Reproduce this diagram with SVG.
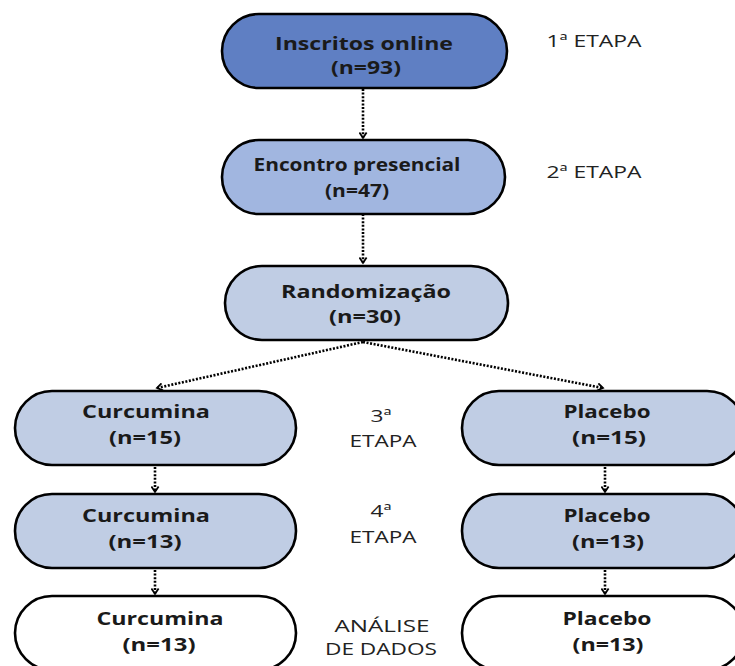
<svg xmlns="http://www.w3.org/2000/svg" width="735" height="666" viewBox="0 0 735 666">
<defs>
<style>
.box{stroke:#000;stroke-width:2.6}
.b1{fill:#5f7fc3}
.b2{fill:#a1b6e0}
.b3{fill:#c0cde4}
.b4{fill:#ffffff}
.t{font-family:"Open Sans","DejaVu Sans",sans-serif;font-weight:bold;font-size:18px;fill:#1a1a1a;text-anchor:middle}
.l{font-family:"Open Sans","DejaVu Sans",sans-serif;font-size:17px;fill:#222;text-anchor:middle}
.c{fill:none;stroke:#000;stroke-width:2.6;stroke-dasharray:2 1.6}
</style>
<marker id="ah" viewBox="0 0 10 10" refX="8" refY="5" markerWidth="9" markerHeight="9" markerUnits="userSpaceOnUse" orient="auto">
<path d="M2,1 L8,5 L2,9" fill="none" stroke="#000" stroke-width="2"/>
</marker>
</defs>
<rect width="735" height="666" fill="#fff"/>
<g id="connectors">
<line class="c" x1="363" y1="89" x2="363" y2="138" marker-end="url(#ah)"/>
<line class="c" x1="363" y1="214" x2="363" y2="263" marker-end="url(#ah)"/>
<line class="c" x1="363" y1="342" x2="157" y2="388" marker-end="url(#ah)"/>
<line class="c" x1="363" y1="342" x2="603" y2="388" marker-end="url(#ah)"/>
<line class="c" x1="155" y1="467" x2="155" y2="492" marker-end="url(#ah)"/>
<line class="c" x1="155" y1="570" x2="155" y2="594" marker-end="url(#ah)"/>
<line class="c" x1="605" y1="467" x2="605" y2="492" marker-end="url(#ah)"/>
<line class="c" x1="605" y1="570" x2="605" y2="594" marker-end="url(#ah)"/>
</g>
<g id="n1">
<rect class="box b1" x="222" y="14" width="285" height="74" rx="37" ry="37"/>
<text class="t" x="364" y="50" textLength="178" lengthAdjust="spacingAndGlyphs">Inscritos online</text>
<text class="t" x="366" y="74" textLength="70" lengthAdjust="spacingAndGlyphs">(n=93)</text>
</g>
<g id="n2">
<rect class="box b2" x="222" y="140" width="283" height="74" rx="37" ry="37"/>
<text class="t" x="357" y="171" font-size="17" textLength="207" lengthAdjust="spacingAndGlyphs">Encontro presencial</text>
<text class="t" x="357" y="197" font-size="17" textLength="64" lengthAdjust="spacingAndGlyphs">(n=47)</text>
</g>
<g id="n3">
<rect class="box b3" x="225" y="266" width="283" height="74" rx="37" ry="37"/>
<text class="t" x="366" y="298" textLength="170" lengthAdjust="spacingAndGlyphs">Randomização</text>
<text class="t" x="365" y="323" textLength="72" lengthAdjust="spacingAndGlyphs">(n=30)</text>
</g>
<g id="n4">
<rect class="box b3" x="15" y="391" width="281" height="74" rx="37" ry="37"/>
<text class="t" x="146" y="418" textLength="128" lengthAdjust="spacingAndGlyphs">Curcumina</text>
<text class="t" x="145" y="444" textLength="72" lengthAdjust="spacingAndGlyphs">(n=15)</text>
</g>
<g id="n5">
<rect class="box b3" x="462" y="391" width="282" height="74" rx="37" ry="37"/>
<text class="t" x="607" y="418" textLength="87" lengthAdjust="spacingAndGlyphs">Placebo</text>
<text class="t" x="609" y="444" textLength="74" lengthAdjust="spacingAndGlyphs">(n=15)</text>
</g>
<g id="n6">
<rect class="box b3" x="15" y="494" width="281" height="74" rx="37" ry="37"/>
<text class="t" x="146" y="522" textLength="128" lengthAdjust="spacingAndGlyphs">Curcumina</text>
<text class="t" x="145" y="548" textLength="73" lengthAdjust="spacingAndGlyphs">(n=13)</text>
</g>
<g id="n7">
<rect class="box b3" x="462" y="494" width="282" height="74" rx="37" ry="37"/>
<text class="t" x="607" y="522" textLength="87" lengthAdjust="spacingAndGlyphs">Placebo</text>
<text class="t" x="608" y="548" textLength="72" lengthAdjust="spacingAndGlyphs">(n=13)</text>
</g>
<g id="n8">
<rect class="box b4" x="15" y="596" width="281" height="74" rx="37" ry="37"/>
<text class="t" x="160" y="625" textLength="127" lengthAdjust="spacingAndGlyphs">Curcumina</text>
<text class="t" x="159" y="651" textLength="73" lengthAdjust="spacingAndGlyphs">(n=13)</text>
</g>
<g id="n9">
<rect class="box b4" x="462" y="596" width="282" height="74" rx="37" ry="37"/>
<text class="t" x="607" y="625" textLength="89" lengthAdjust="spacingAndGlyphs">Placebo</text>
<text class="t" x="608" y="651" textLength="71" lengthAdjust="spacingAndGlyphs">(n=13)</text>
</g>
<g id="labels">
<text class="l" x="594" y="47" textLength="95" lengthAdjust="spacingAndGlyphs">1ª ETAPA</text>
<text class="l" x="594" y="178" textLength="95" lengthAdjust="spacingAndGlyphs">2ª ETAPA</text>
<text class="l" x="381" y="422" textLength="21" lengthAdjust="spacingAndGlyphs">3ª</text>
<text class="l" x="383" y="447" textLength="67" lengthAdjust="spacingAndGlyphs">ETAPA</text>
<text class="l" x="381" y="517" textLength="21" lengthAdjust="spacingAndGlyphs">4ª</text>
<text class="l" x="383" y="543" textLength="67" lengthAdjust="spacingAndGlyphs">ETAPA</text>
<text class="l" x="382" y="632" textLength="95" lengthAdjust="spacingAndGlyphs">ANÁLISE</text>
<text class="l" x="381" y="655" textLength="112" lengthAdjust="spacingAndGlyphs">DE DADOS</text>
</g>
</svg>
